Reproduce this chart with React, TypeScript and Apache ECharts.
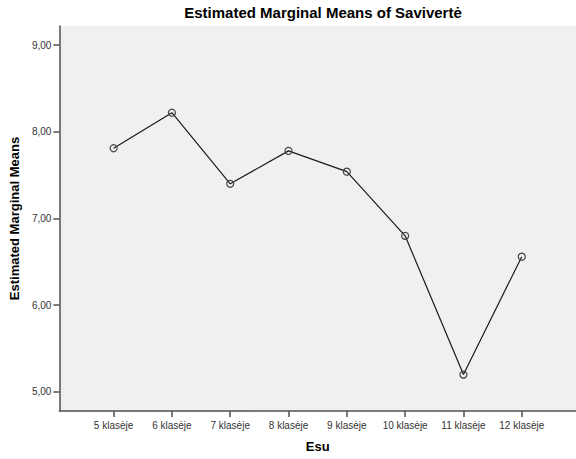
import React, { useEffect, useRef } from "react";
import * as echarts from "echarts";

const categories = ["5 klasėje", "6 klasėje", "7 klasėje", "8 klasėje", "9 klasėje", "10 klasėje", "11 klasėje", "12 klasėje"];
const means = [7.81, 8.22, 7.40, 7.78, 7.54, 6.80, 5.20, 6.56];
const yTicks = [5, 6, 7, 8, 9];

const FONT = "'Liberation Sans', Arial, sans-serif";

export default function App() {
  const ref = useRef<HTMLDivElement>(null);
  useEffect(() => {
    if (!ref.current) return;
    const chart = echarts.init(ref.current, null, { renderer: "svg" });
    const xIdx = categories.map((_, i) => i);
    chart.setOption({
      animation: false,
      backgroundColor: "#ffffff",
      textStyle: { fontFamily: FONT },
      title: {
        text: "Estimated Marginal Means of Savivertė",
        left: 318,
        top: 0,
        textAlign: "center",
        textStyle: { fontFamily: FONT, fontSize: 15, fontWeight: "bold", color: "#000" },
      },
      grid: {
        left: 58,
        top: 26,
        width: 521,
        height: 385,
        show: true,
        backgroundColor: "#f0f0f0",
        borderWidth: 0,
      },
      xAxis: {
        type: "value",
        min: -0.93,
        max: 7.93,
        name: "Esu",
        nameLocation: "middle",
        nameGap: 29,
        nameTextStyle: { fontFamily: FONT, fontSize: 13, fontWeight: "bold", color: "#000" },
        splitLine: { show: false },
        axisLine: { show: true, onZero: false, lineStyle: { color: "#505050", width: 1.5 } },
        axisTick: { show: true, customValues: xIdx, length: 6, lineStyle: { color: "#505050", width: 1.5 } },
        axisLabel: {
          customValues: xIdx,
          formatter: (v: number) => categories[Math.round(v)] ?? "",
          fontFamily: FONT,
          fontSize: 10,
          color: "#333",
          margin: 9,
        },
      },
      yAxis: {
        type: "value",
        min: 4.78,
        max: 9.22,
        name: "Estimated Marginal Means",
        nameLocation: "middle",
        nameGap: 35,
        nameTextStyle: { fontFamily: FONT, fontSize: 13, fontWeight: "bold", color: "#000" },
        splitLine: { show: false },
        axisLine: { show: true, onZero: false, lineStyle: { color: "#505050", width: 1.5 } },
        axisTick: { show: true, customValues: yTicks, length: 6, lineStyle: { color: "#505050", width: 1.5 } },
        axisLabel: {
          customValues: yTicks,
          formatter: (v: number) => v.toFixed(2).replace(".", ","),
          fontFamily: FONT,
          fontSize: 10,
          color: "#333",
          margin: 8,
        },
      },
      series: [
        {
          type: "line",
          data: means.map((m, i) => [i, m]),
          symbol: "circle",
          symbolSize: 7,
          showSymbol: true,
          lineStyle: { color: "#1a1a1a", width: 1.2 },
          itemStyle: { color: "rgba(0,0,0,0)", borderColor: "#444", borderWidth: 1.2 },
          silent: true,
        },
      ],
    });
    return () => chart.dispose();
  }, []);
  return <div ref={ref} style={{ position: "fixed", left: 0, top: 0, width: 576, height: 459 }} />;
}
